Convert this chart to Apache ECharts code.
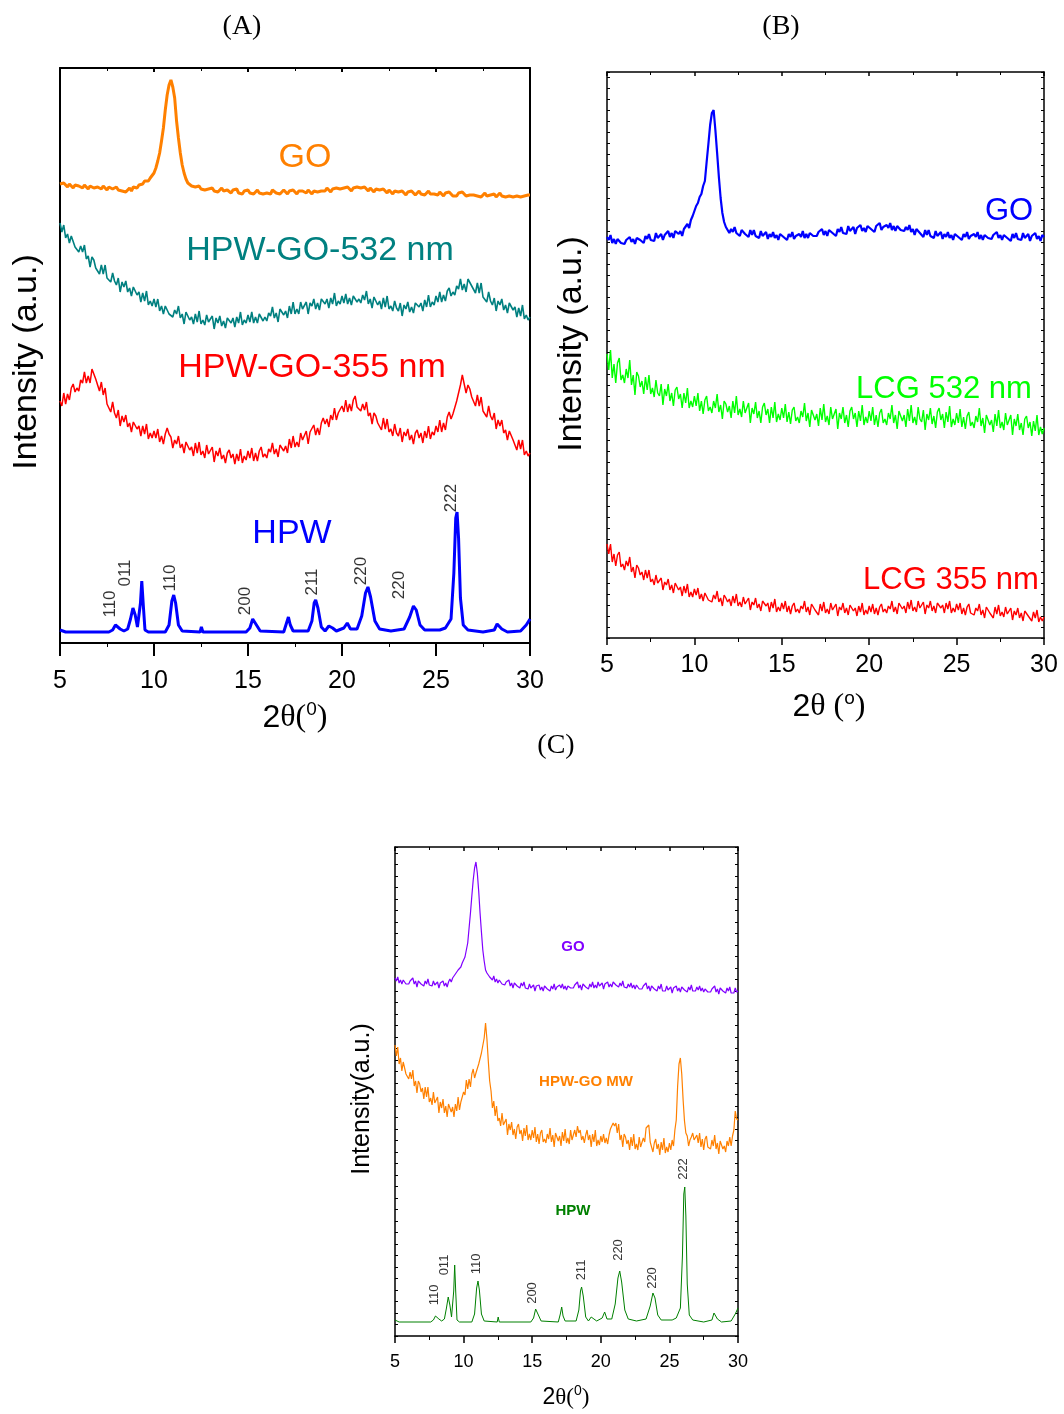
<!DOCTYPE html>
<html><head><meta charset="utf-8">
<script src="https://cdn.jsdelivr.net/npm/echarts@6/dist/echarts.min.js"></script>
<style>html,body{margin:0;padding:0;background:#fff}#c{width:1064px;height:1414px}</style>
</head><body><div id="c"></div>
<script>
// 2θ sampling of the scanned patterns: start 5°, step 0.1°
const START = 5, STEP = 0.1;
const xTicks = [5, 10, 15, 20, 25, 30];

// ---- Panel A (intensity in arbitrary units, stacked) ----
const A_GO = [
459,457,460,458,456,459,457,455,458,456, 457,459,455,458,456,454,457,459,455,457,
456,458,454,457,455,453,456,458,454,455, 456,453,455,452,454,451,453,455,452,456,
457,455,458,460,459,462,463,462,465,467, 470,475,482,490,502,515,533,548,558,563,
556,545,522,505,490,478,470,464,460,459, 457,459,456,455,457,454,456,453,455,454,
453,455,452,454,451,453,455,452,450,453, 452,450,453,451,454,450,452,449,452,451,
453,450,452,449,451,453,450,452,449,451, 450,452,449,453,451,450,452,449,451,453,
451,449,452,450,453,451,449,452,450,452, 452,450,453,451,449,452,454,451,453,452,
454,452,455,453,451,454,452,455,453,454, 452,455,453,456,454,452,455,453,456,454,
455,453,456,454,452,455,453,451,454,452, 453,451,454,452,450,453,451,449,452,450,
451,449,452,450,448,451,449,452,450,448, 450,452,449,451,448,450,452,449,451,449,
450,448,451,449,447,450,448,451,449,447, 449,447,450,448,451,449,447,449,448,450,
448,450,447,449,446,448,450,447,449,448, 447,449,446,448,450,447,449,446,448,447,
449,446,448,447,449,446,448,447,445,448, 448];
const A_532 = [
420,411,418,405,409,400,407,407,396,397, 391,397,391,398,384,387,376,386,383,375,
377,369,378,369,378,365,367,361,370,362, 358,365,351,361,356,362,351,355,347,356,
356,348,351,341,350,342,352,338,342,337, 344,336,344,332,337,329,337,338,329,331,
326,333,329,337,325,329,319,331,329,323, 326,319,329,321,332,319,323,318,328,321,
319,327,314,325,320,327,317,322,315,325, 327,320,325,316,326,320,331,318,323,320,
328,321,331,320,326,320,329,331,322,326, 322,330,327,336,325,330,321,334,333,328,
332,325,337,329,341,329,334,329,341,334, 333,341,329,340,337,344,334,340,333,344,
346,339,344,335,345,339,350,337,342,339, 347,340,349,339,345,338,347,349,341,344,
340,348,343,352,339,344,335,346,345,338, 342,334,345,336,347,334,337,332,342,335,
332,340,327,338,334,341,331,336,330,340, 342,336,340,332,343,336,348,336,341,338,
347,341,351,341,348,342,352,355,347,351, 348,357,354,364,353,359,351,364,364,357,
359,350,360,350,360,346,348,341,351,342, 338,345,332,342,338,344,333,338,330,340,
341,333,336,326,335,327,338,324,328,323, 326];
const A_355 = [
242,237,250,239,249,243,255,259,251,255, 252,263,260,271,260,267,260,274,274,264,
264,252,261,248,255,239,240,231,241,230, 225,233,217,227,221,228,216,220,211,221,
223,214,217,207,217,209,219,204,210,205, 212,205,214,201,207,199,209,215,209,206,
195,203,199,207,195,199,190,201,200,193, 196,187,200,190,201,188,192,185,198,189,
187,196,181,192,187,195,184,188,180,190, 193,185,189,179,189,182,194,180,187,183,
192,185,195,182,190,182,192,196,186,189, 185,194,191,200,189,194,186,198,198,192,
197,190,204,195,207,196,201,196,210,203, 202,212,199,211,209,218,208,215,208,220,
225,219,224,216,228,223,235,223,230,228, 237,231,243,231,239,232,243,247,236,238,
232,239,233,241,227,230,219,230,227,220, 222,213,225,214,224,211,214,207,219,210,
207,215,201,211,207,214,203,208,199,210, 213,205,210,200,212,205,217,204,211,208,
217,211,223,211,220,213,226,231,224,229, 227,242,244,258,268,259,250,258,254,246,
247,237,248,237,246,232,234,226,237,227, 223,230,214,223,217,223,210,213,203,212,
213,203,205,193,203,194,203,188,192,187, 190];
const A_HPW = [
[5.0,13],[5.05,15],[5.15,12],[5.3,11],[7.6,11],[7.8,13],[7.95,18],[8.05,19],[8.2,14],[8.4,12],
[8.6,14],[8.75,24],[8.88,35],[9.0,28],[9.12,16],[9.2,15],[9.28,40],[9.35,62],[9.43,38],[9.52,13],
[9.7,11],[10.6,11],[10.8,18],[10.95,42],[11.05,48],[11.15,40],[11.3,18],[11.5,12],[12.45,11],[12.52,16],
[12.6,11],[14.9,11],[15.1,15],[15.25,24],[15.32,25],[15.45,18],[15.65,12],[16.9,11],[17.05,20],[17.15,26],
[17.25,18],[17.4,12],[18.2,12],[18.4,22],[18.52,40],[18.6,43],[18.72,35],[18.9,16],[19.1,12],[19.3,17],
[19.4,19],[19.5,15],[19.7,12],[20.1,15],[20.28,20],[20.45,14],[20.8,14],[21.05,27],[21.25,50],[21.38,56],
[21.52,46],[21.75,22],[22.0,14],[22.6,12],[23.3,14],[23.6,26],[23.8,37],[23.95,33],[24.15,18],[24.4,13],
[25.2,13],[25.5,15],[25.8,24],[25.95,70],[26.05,125],[26.12,131],[26.2,105],[26.3,45],[26.45,18],[26.7,13],
[27.5,11],[28.1,13],[28.25,19],[28.35,20],[28.5,14],[28.8,11],[29.5,12],[29.8,18],[30.0,24]];

// ---- Panel B ----
const B_GO = [
401,398,403,395,399,394,399,400,395,396, 394,398,396,401,396,399,394,400,400,398,
400,395,402,399,404,398,400,397,405,400, 400,404,398,403,402,407,401,405,400,407,
409,404,407,402,409,407,414,410,418,422, 427,432,435,441,444,452,457,476,494,513,
525,528,508,485,461,440,425,416,411,409, 405,409,406,411,405,407,402,408,406,404,
406,401,408,403,408,402,404,400,407,402, 402,406,399,404,401,406,400,403,398,404,
406,401,403,398,404,401,406,399,402,400, 404,401,407,400,404,400,405,407,402,404,
402,406,404,409,403,407,402,408,407,405, 407,402,409,406,411,405,407,404,412,407,
407,411,404,410,408,413,407,410,406,412, 414,409,411,406,412,410,415,408,411,409,
413,410,415,408,412,407,412,414,408,409, 407,411,408,413,406,409,403,409,407,405,
406,401,408,403,408,402,404,400,407,402, 402,406,399,404,401,406,400,403,398,404,
406,401,403,398,404,401,406,399,402,400, 404,401,406,399,403,398,403,405,400,401,
399,403,401,406,400,403,398,403,402,400, 402,397,404,400,405,399,401,398,405,400,
400,404,397,402,400,405,399,402,397,403, 401];
const B_532 = [
284,268,288,260,274,255,275,280,258,263, 255,269,260,278,253,263,243,266,262,251,
257,244,261,248,263,244,250,241,258,245, 242,254,233,249,242,254,237,245,232,248,
251,239,244,230,245,235,250,230,237,231, 242,232,245,227,237,224,238,242,227,231,
225,237,230,244,226,233,219,237,234,226, 232,220,237,225,242,223,229,221,237,225,
223,235,215,230,224,236,220,227,215,231, 235,223,229,215,231,220,236,216,224,218,
230,220,234,216,226,214,228,231,217,221, 215,227,221,235,217,225,211,228,226,218,
224,212,230,218,234,216,222,213,231,219, 217,229,209,225,219,231,215,223,211,227,
231,219,225,211,227,217,233,213,221,215, 227,217,231,213,223,211,225,229,215,219,
213,225,219,233,215,223,209,227,225,217, 223,211,229,217,233,215,221,213,231,219,
216,228,208,224,218,230,214,222,210,226, 230,218,224,210,226,216,232,211,219,213,
225,215,229,211,221,209,222,226,212,216, 210,222,216,230,212,220,205,223,221,213,
218,206,224,212,228,210,216,208,225,213, 211,223,203,219,212,224,208,215,203,219,
222,210,216,202,217,207,223,203,211,204, 210];
const B_355 = [
94,84,94,76,84,72,83,86,71,74, 68,77,72,81,66,71,60,73,70,63,
66,58,68,60,68,56,59,53,63,55, 54,60,48,56,53,59,48,53,45,55,
56,48,51,42,52,45,54,41,46,41, 49,43,50,39,44,37,45,47,38,40,
36,43,39,47,36,40,32,43,40,36, 39,32,42,35,44,32,36,31,41,34,
33,40,28,36,33,40,30,34,27,37, 39,32,35,26,36,30,39,26,31,27,
35,29,37,26,32,24,32,35,26,29, 25,32,29,37,26,31,23,34,32,28,
30,23,34,27,36,25,29,24,35,28, 27,34,22,31,28,35,25,30,23,33,
34,27,30,22,32,26,35,23,28,24, 32,26,34,24,30,23,31,34,26,29,
25,32,29,37,26,31,24,35,33,29, 32,25,36,29,38,27,31,26,37,30,
29,36,24,33,30,37,27,32,25,35, 37,30,33,25,35,29,37,25,30,26,
34,28,35,24,30,23,31,34,25,27, 23,30,27,34,23,28,20,31,29,25,
27,20,31,24,33,22,26,21,31,24, 23,30,18,27,23,30,20,25,17,27,
29,22,24,17,26,20,28,16,21,17, 21];

// ---- Panel C ----
const C_GO = [
358,355,359,353,356,352,356,356,352,353, 352,355,353,358,352,355,349,355,354,352,
354,350,355,352,357,351,352,350,355,351, 351,354,348,353,351,355,350,353,349,354,
357,354,358,357,362,361,366,365,369,373, 376,379,386,393,408,423,440,456,468,474,
463,445,423,404,386,375,366,363,361,359, 360,356,360,354,357,353,356,357,352,353,
351,354,352,356,350,353,348,353,352,350, 352,348,353,350,354,348,350,347,352,348,
348,351,345,350,348,351,346,349,345,350, 351,347,349,345,350,347,352,346,349,347,
351,348,352,347,350,346,350,352,348,349, 348,351,349,354,348,351,346,352,351,349,
351,347,352,349,354,348,351,348,354,350, 350,353,347,352,350,354,349,352,349,354,
355,351,353,349,353,350,355,349,350,348, 352,349,353,348,351,347,351,351,347,348,
347,350,348,353,347,350,345,350,349,347, 349,345,350,347,352,345,347,345,350,346,
346,349,343,348,346,350,345,348,344,349, 350,346,348,344,349,346,351,345,347,345,
349,346,350,345,348,344,347,348,344,345, 344,347,345,350,344,347,342,348,347,345,
347,343,348,345,349,343,345,343,348,344, 345];
const C_MW = [
291,280,289,272,278,265,274,275,262,263, 257,264,257,266,250,255,243,255,252,244,
248,237,249,239,249,234,238,231,244,233, 231,239,223,234,228,237,223,230,219,232,
234,224,229,219,232,225,239,226,234,232, 244,241,256,247,257,249,262,267,258,263,
262,272,271,283,282,298,313,297,275,255, 245,228,235,220,230,215,218,210,223,211,
209,217,201,212,206,214,201,207,197,209, 212,202,206,195,208,200,211,196,202,196,
206,198,209,194,202,192,203,206,194,197, 193,202,197,208,194,201,189,203,201,195,
200,190,204,195,207,193,198,192,206,196, 197,206,199,210,203,206,196,200,193,201,
206,196,201,189,202,194,206,190,196,191, 200,194,202,193,198,192,201,207,207,213,
210,213,203,212,196,201,189,202,199,192, 196,186,199,190,202,187,192,186,199,189,
189,198,194,208,210,211,194,193,184,193, 197,187,192,181,194,186,198,183,189,184,
193,186,196,190,206,216,250,272,278,262, 236,215,203,200,190,196,199,203,196,198,
201,193,203,189,197,186,197,200,189,191, 187,196,190,201,187,193,182,195,193,187,
190,184,195,190,199,190,200,206,225,217, 216];
const C_HPW = [
[5.0,16],[5.05,18],[5.15,15],[5.3,14],[7.6,14],[7.8,16],[7.95,20],[8.05,21],[8.2,17],[8.4,15],
[8.6,17],[8.75,28],[8.88,39],[9.0,31],[9.12,19],[9.2,18],[9.28,45],[9.35,71],[9.43,43],[9.52,16],
[9.7,14],[10.6,14],[10.8,22],[10.95,48],[11.05,55],[11.15,46],[11.3,22],[11.5,15],[12.45,14],[12.52,19],
[12.6,14],[14.9,14],[15.1,18],[15.25,27],[15.32,28],[15.45,21],[15.65,15],[16.9,14],[17.05,22],[17.15,29],
[17.25,20],[17.4,15],[18.2,15],[18.4,26],[18.52,45],[18.6,49],[18.72,40],[18.9,19],[19.1,15],[19.3,19],
[19.4,21],[19.5,17],[19.7,15],[20.1,18],[20.28,24],[20.45,17],[20.8,17],[21.05,32],[21.25,58],[21.38,65],
[21.52,54],[21.75,26],[22.0,17],[22.6,15],[23.3,17],[23.6,30],[23.8,43],[23.95,38],[24.15,21],[24.4,16],
[25.2,16],[25.5,18],[25.8,28],[25.95,80],[26.05,142],[26.12,149],[26.2,120],[26.3,52],[26.45,21],[26.7,16],
[27.5,14],[28.1,16],[28.25,23],[28.35,24],[28.5,17],[28.8,14],[29.5,15],[29.8,22],[30.0,28]];

// Miller-index labels [text, 2θ position, label height]
const A_hkl = [['110',7.65,39],['011',8.45,70],['110',10.85,65],['200',14.85,42],['211',18.4,61],['220',21.05,72],['220',23.05,58],['222',25.8,145]];
const C_hkl = [['110',7.9,41],['011',8.6,71],['110',10.95,72],['200',15.0,43],['211',18.6,66],['220',21.25,86],['220',23.75,58],['222',26.0,167]];

function pairs(ys){ return ys.map((y,i)=>[+(START+i*STEP).toFixed(2), y]); }

const chart = echarts.init(document.getElementById('c'), null, {renderer:'canvas'});
const FF = '"Liberation Sans", Arial, sans-serif';
const SERIF = '"Liberation Serif", "Times New Roman", serif';

function xAx(grid, pos, o){
  const bottom = pos === 'bottom';
  return {
    type:'value', gridIndex:grid, position:pos, min:xTicks[0], max:xTicks[xTicks.length-1], interval:xTicks[1]-xTicks[0],
    axisLine:{show:true, onZero:false, lineStyle:{color:'#000', width:o.lw}},
    axisTick:{show:true, inside:!bottom, length: bottom? o.tl : 4, lineStyle:{color:'#000', width:o.lw}},
    minorTick:{show:true, splitNumber:2, length: bottom? o.ml : 3, lineStyle:{color:'#000', width:1}},
    axisLabel:{show:bottom, fontSize:o.fs, color:'#000', fontFamily:FF, margin:o.margin},
    splitLine:{show:false}, minorSplitLine:{show:false}
  };
}
function yAx(grid, pos, max, o){
  return {
    type:'value', gridIndex:grid, position:pos, min:0, max:max, interval:o.yi || max,
    axisLine:{show:true, onZero:false, lineStyle:{color:'#000', width:o.lw}},
    axisTick:{show:!!o.yi, inside:true, length:3, lineStyle:{color:'#000', width:1}},
    axisLabel:{show:false}, splitLine:{show:false}
  };
}
const oA = {lw:2, tl:13, ml:4, fs:25, margin:26};
const oB = {lw:1.5, tl:7, ml:4, fs:25, margin:15, yi:11};
const oC = {lw:1.5, tl:7, ml:4, fs:18, margin:17, yi:11.5};

function line(data, color, w, xi, yi){
  return {type:'line', data:data, xAxisIndex:xi, yAxisIndex:yi, showSymbol:false, symbol:'none',
    lineStyle:{color:color, width:w}, itemStyle:{color:color}, silent:true, animation:false};
}

const graphics = [];
function txt(x,y,text,size,color,opt){
  opt = opt || {};
  graphics.push({type:'text', x:x, y:y, rotation: opt.rot || 0, silent:true,
    style:{text:text, fontSize:size, fontFamily: opt.ff || FF, fontWeight: opt.bold ? 'bold':'normal',
      fill:color, align:'center', verticalAlign:'middle', rich: opt.rich}});
}
// titles
txt(242,27,'(A)',28,'#000',{ff:SERIF});
txt(781,27,'(B)',28,'#000',{ff:SERIF});
txt(556,746,'(C)',28,'#000',{ff:SERIF});
// y axis names
txt(27,362,'Intensity (a.u.)',34,'#000',{rot:Math.PI/2});
txt(572,344,'Intensity (a.u.)',34,'#000',{rot:Math.PI/2});
txt(362,1099,'Intensity(a.u.)',25,'#000',{rot:Math.PI/2});
// x axis names with superscript
function supRich(main){
  const sub = Math.round(main*0.6);
  return {a:{fontSize:main, fontFamily:FF, lineHeight:main+4, fill:'#000'},
          t:{fontSize:main, fontFamily:SERIF, lineHeight:main+4, fill:'#000'},
          s:{fontSize:sub, fontFamily:FF, lineHeight:sub, verticalAlign:'top', fill:'#000'}};
}
txt(295,718,'{a|2}{t|θ(}{s|0}{t|)}',32,'#000',{rich:supRich(32)});
txt(829,707,'{a|2}{t|θ (}{s|o}{t|)}',32,'#000',{rich:supRich(32)});
txt(566,1398,'{a|2}{t|θ(}{s|0}{t|)}',23,'#000',{rich:supRich(23)});
// series labels
txt(305,158,'GO',34,'#FF8000');
txt(320,251,'HPW-GO-532 nm',34,'#008080');
txt(312,368,'HPW-GO-355 nm',34,'#FF0000');
txt(292,534,'HPW',34,'#0000FF');
txt(1009,211,'GO',31,'#0000FF');
txt(944,389,'LCG 532 nm',31,'#00FF00');
txt(951,580,'LCG 355 nm',31,'#FF0000');
txt(573,947,'GO',15,'#8000FF',{bold:true});
txt(586,1082,'HPW-GO MW',15,'#FF8000',{bold:true});
txt(573,1211,'HPW',15,'#008000',{bold:true});

const option = {
  animation:false,
  backgroundColor:'#fff',
  grid:[
    {left:60, top:68, width:470, height:575},
    {left:607, top:72, width:437, height:566},
    {left:395, top:847, width:343, height:489}
  ],
  xAxis:[xAx(0,'bottom',oA), xAx(0,'top',oA), xAx(1,'bottom',oB), xAx(1,'top',oB), xAx(2,'bottom',oC), xAx(2,'top',oC)],
  yAxis:[yAx(0,'left',575,oA), yAx(0,'right',575,oA), yAx(1,'left',566,oB), yAx(1,'right',566,oB), yAx(2,'left',489,oC), yAx(2,'right',489,oC)],
  series:[
    line(pairs(A_GO),'#FF8000',3,0,0),
    line(pairs(A_532),'#008080',1.6,0,0),
    line(pairs(A_355),'#FF0000',1.5,0,0),
    line(A_HPW,'#0000FF',3,0,0),
    line(pairs(B_GO),'#0000FF',2.2,2,2),
    line(pairs(B_532),'#00FF00',1.4,2,2),
    line(pairs(B_355),'#FF0000',1.4,2,2),
    line(pairs(C_GO),'#8000FF',1.2,4,4),
    line(pairs(C_MW),'#FF8000',1.2,4,4),
    line(C_HPW,'#008000',1,4,4),
    {type:'scatter', xAxisIndex:0, yAxisIndex:0, symbolSize:0, silent:true,
     data:A_hkl.map(d=>({value:[d[1],d[2]], name:d[0]})),
     label:{show:true, formatter:'{b}', rotate:90, position:'inside', fontSize:17, color:'#000', fontFamily:FF}},
    {type:'scatter', xAxisIndex:4, yAxisIndex:4, symbolSize:0, silent:true,
     data:C_hkl.map(d=>({value:[d[1],d[2]], name:d[0]})),
     label:{show:true, formatter:'{b}', rotate:90, position:'inside', fontSize:13, color:'#000', fontFamily:FF}}
  ],
  graphic:graphics
};
chart.setOption(option);
</script></body></html>
